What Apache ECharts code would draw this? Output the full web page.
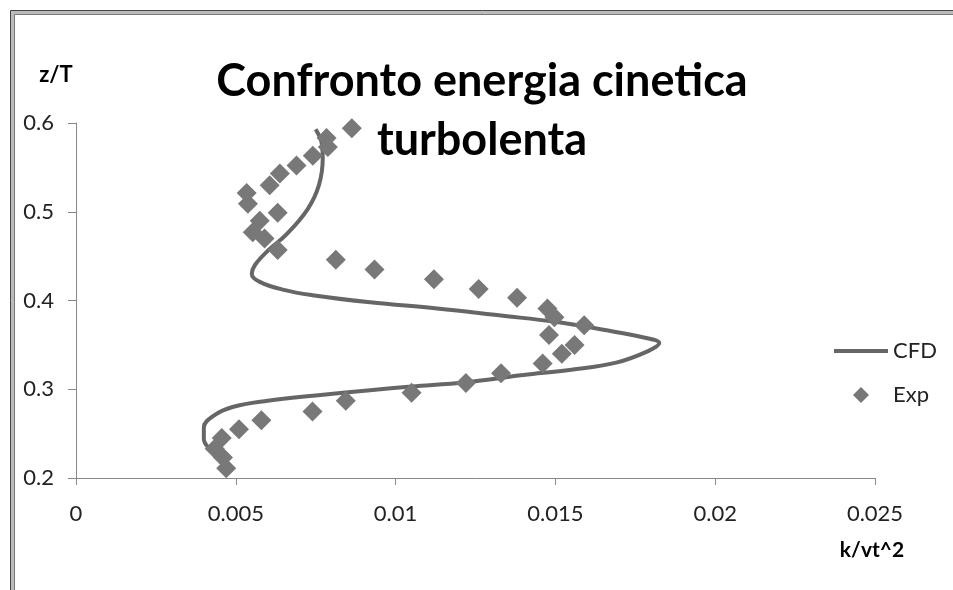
<!DOCTYPE html>
<html>
<head>
<meta charset="utf-8">
<script src="https://cdn.jsdelivr.net/npm/echarts@6/dist/echarts.min.js"></script>
<style>
  html, body { margin: 0; padding: 0; background: #fff; overflow: hidden; }
  #grafico { width: 953px; height: 590px; }
</style>
</head>
<body>
<div id="grafico"></div>
<script>
// CFD profile: k/vt^2 vs z/T
const cfdK = [0.0075, 0.0077, 0.00772, 0.0076, 0.00725, 0.0066, 0.0060, 0.0056, 0.0055, 0.00575,
  0.0065, 0.0074, 0.0092, 0.0113, 0.0133, 0.0150, 0.0165, 0.0178, 0.01825, 0.0179,
  0.0169, 0.0155, 0.0140, 0.0122, 0.0105, 0.0092, 0.0075, 0.0060, 0.0049, 0.0043,
  0.0040, 0.0040, 0.0042, 0.0045];
const cfdZ = [0.593, 0.575, 0.560, 0.530, 0.503, 0.475, 0.456, 0.440, 0.430, 0.421,
  0.412, 0.406, 0.398, 0.391, 0.383, 0.376, 0.367, 0.358, 0.352, 0.343,
  0.330, 0.322, 0.316, 0.308, 0.303, 0.299, 0.293, 0.287, 0.280, 0.270,
  0.257, 0.244, 0.232, 0.222];

// dati sperimentali
const expK = [0.00863, 0.00784, 0.00788, 0.00741, 0.0069, 0.00638, 0.00606, 0.00534, 0.00538, 0.00631,
  0.00575, 0.00553, 0.0059, 0.00631, 0.00813, 0.00934, 0.0112, 0.0126, 0.0138, 0.01475,
  0.01497, 0.0159, 0.0148, 0.0156, 0.0152, 0.0146, 0.0133, 0.0122, 0.0105, 0.00844,
  0.0074, 0.0058, 0.0051, 0.00456, 0.00434, 0.0046, 0.0047];
const expZ = [0.594, 0.583, 0.573, 0.563, 0.552, 0.543, 0.530, 0.521, 0.509, 0.499,
  0.490, 0.477, 0.470, 0.457, 0.446, 0.435, 0.424, 0.413, 0.403, 0.391,
  0.381, 0.372, 0.361, 0.350, 0.340, 0.329, 0.318, 0.307, 0.296, 0.287,
  0.275, 0.265, 0.255, 0.245, 0.233, 0.223, 0.211];

const titolo = ['Confronto energia cinetica', 'turbolenta'];
const fontBase = 'Lato, "Open Sans", sans-serif';

// bordo del riquadro (solo lato sinistro e superiore visibili)
const bordo = (pos, stroke, width) => ([
  { type: 'polyline', shape: { points: [[pos, 600], [pos, pos], [1000, pos]] },
    style: { fill: 'none', stroke: stroke, lineWidth: width } }
]);

const getOptions = () => {
  return {
    animation: false,
    backgroundColor: '#fff',
    textStyle: { fontFamily: fontBase },
    grid: {
      left: 76,
      right: 78,
      top: 123,
      bottom: 112
    },
    graphic: [
      ...bordo(10.5, '#444', 1),
      ...bordo(12.5, '#bbb', 3),
      ...bordo(14.5, '#777', 1),
      { type: 'text', x: 482, y: 81,
        style: { text: titolo[0], fontSize: 45, fontWeight: 'bold', fontFamily: fontBase,
          fill: '#000', align: 'center', verticalAlign: 'middle' } },
      { type: 'text', x: 482, y: 140,
        style: { text: titolo[1], fontSize: 45, fontWeight: 'bold', fontFamily: fontBase,
          fill: '#000', align: 'center', verticalAlign: 'middle' } },
      { type: 'text', x: 56, y: 75,
        style: { text: 'z/T', fontSize: 22, fontWeight: 'bold', fontFamily: fontBase,
          fill: '#000', align: 'center', verticalAlign: 'middle' } },
      { type: 'text', x: 872, y: 550,
        style: { text: 'k/vt^2', fontSize: 21, fontWeight: 'bold', fontFamily: fontBase,
          fill: '#000', align: 'center', verticalAlign: 'middle' } }
    ],
    legend: {
      orient: 'vertical',
      left: 829,
      top: 335,
      itemWidth: 54,
      itemHeight: 16,
      itemGap: 22,
      textStyle: { fontSize: 22, color: '#222', fontFamily: fontBase },
      data: [
        { name: 'CFD', icon: 'path://M0,0 L54,0 L54,4 L0,4 Z' },
        { name: 'Exp', icon: 'path://M7,0 L14,7 L7,14 L0,7 Z' }
      ]
    },
    xAxis: {
      type: 'value',
      min: 0,
      max: 0.025,
      interval: 0.005,
      axisLine: { show: true, onZero: false, lineStyle: { color: '#888', width: 1 } },
      axisTick: { show: true, length: 7, lineStyle: { color: '#888' } },
      axisLabel: { fontSize: 22, color: '#222', margin: 25, fontFamily: fontBase },
      splitLine: { show: false }
    },
    yAxis: {
      type: 'value',
      min: 0.2,
      max: 0.6,
      interval: 0.1,
      axisLine: { show: true, onZero: false, lineStyle: { color: '#888', width: 1 } },
      axisTick: { show: true, length: 8, lineStyle: { color: '#888' } },
      axisLabel: { fontSize: 22, color: '#222', margin: 22, fontFamily: fontBase },
      splitLine: { show: false }
    },
    series: [
      {
        name: 'CFD',
        type: 'line',
        data: cfdK.map((k, i) => [k, cfdZ[i]]),
        smooth: 0.4,
        symbol: 'none',
        lineStyle: { color: '#666', width: 4 },
        itemStyle: { color: '#666' },
        z: 2
      },
      {
        name: 'Exp',
        type: 'scatter',
        symbol: 'diamond',
        symbolSize: 20,
        data: expK.map((k, i) => [k, expZ[i]]),
        itemStyle: { color: '#787878', opacity: 1 },
        z: 3
      }
    ]
  };
};

window.addEventListener('load', () => {
  const grafico = echarts.init(document.getElementById('grafico'));
  grafico.setOption(getOptions());
});
</script>
</body>
</html>
